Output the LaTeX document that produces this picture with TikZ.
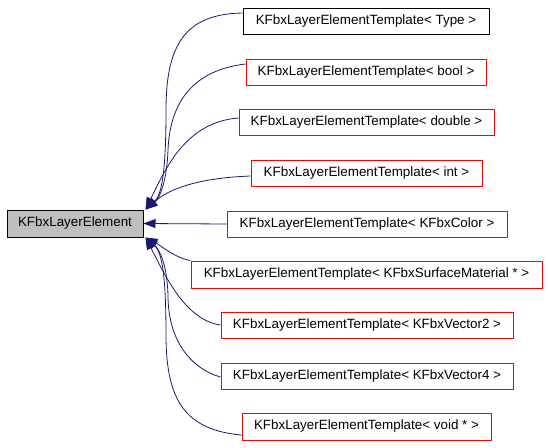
\documentclass[tikz,border=0pt]{standalone}
\usepackage{fontspec}
\setmainfont{Liberation Sans}
\usetikzlibrary{arrows.meta}
\definecolor{edgeblue}{HTML}{191970}
\definecolor{basegray}{HTML}{BFBFBF}
\tikzset{
  box/.style={draw=red, line width=1pt, minimum height=26pt, inner sep=0pt, font=\fontsize{13.4}{15}\selectfont, text=black},
  basebox/.style={box, draw=black, fill=basegray, minimum height=27pt},
  typebox/.style={box, draw=black},
  inh/.style={draw=edgeblue, line width=0.8pt, -{Triangle[length=12pt,width=9pt]}}
}
\begin{document}
\begin{tikzpicture}[x=1pt,y=-1pt]
\useasboundingbox (0,0) rectangle (548,447);
\node[basebox, minimum width=136pt] (base) at (75,223.5) {KFbxLayerElement};
\node[typebox, minimum width=246pt] (type) at (366,21) {KFbxLayerElementTemplate< Type >};
\node[box, minimum width=240pt] (bool) at (366,72) {KFbxLayerElementTemplate< bool >};
\node[box, minimum width=255pt] (dbl) at (366.5,122.5) {KFbxLayerElementTemplate< double >};
\node[box, minimum width=231pt] (int) at (366.5,173.5) {KFbxLayerElementTemplate< int >};
\node[box, minimum width=280pt] (col) at (367,224) {KFbxLayerElementTemplate< KFbxColor >};
\node[box, minimum width=351pt, minimum height=27pt] (surf) at (366.5,274.5) {KFbxLayerElementTemplate< KFbxSurfaceMaterial * >};
\node[box, minimum width=292pt] (vtwo) at (367,325) {KFbxLayerElementTemplate< KFbxVector2 >};
\node[box, minimum width=292pt] (vfour) at (367,376) {KFbxLayerElementTemplate< KFbxVector4 >};
\node[box, minimum width=249pt, minimum height=27pt] (void) at (366.5,426.5) {KFbxLayerElementTemplate< void * >};
\coordinate (tu) at ([xshift=2pt]base.north east);
\coordinate (tl) at ([xshift=2pt]base.south east);
\draw[inh] ([yshift=8pt]type.west) .. controls (185,14) and (166,45) .. (166,110) .. controls (166,170) and (162,195) .. (tu);
\draw[inh] ([yshift=8pt]bool.west) .. controls (195,70) and (170,100) .. (168,150) .. controls (167,180) and (160,198) .. (tu);
\draw[inh] ([yshift=4.5pt]dbl.west) .. controls (185,122) and (165,170) .. (tu);
\draw[inh] ([yshift=-2.5pt]int.west) .. controls (200,178) and (170,188) .. (tu);
\draw[inh] (col.west) -- (base.east);
\draw[inh] (surf.north west) .. controls (175,258) and (160,245) .. (tl);
\draw[inh] (vtwo.west) .. controls (185,320) and (165,275) .. (tl);
\draw[inh] ([yshift=-1pt]vfour.west) .. controls (195,370) and (168,345) .. (168,295) .. controls (167,265) and (160,250) .. (tl);
\draw[inh] ([yshift=-8.5pt]void.west) .. controls (185,430) and (166,400) .. (166,335) .. controls (166,275) and (162,252) .. (tl);
\end{tikzpicture}
\end{document}
